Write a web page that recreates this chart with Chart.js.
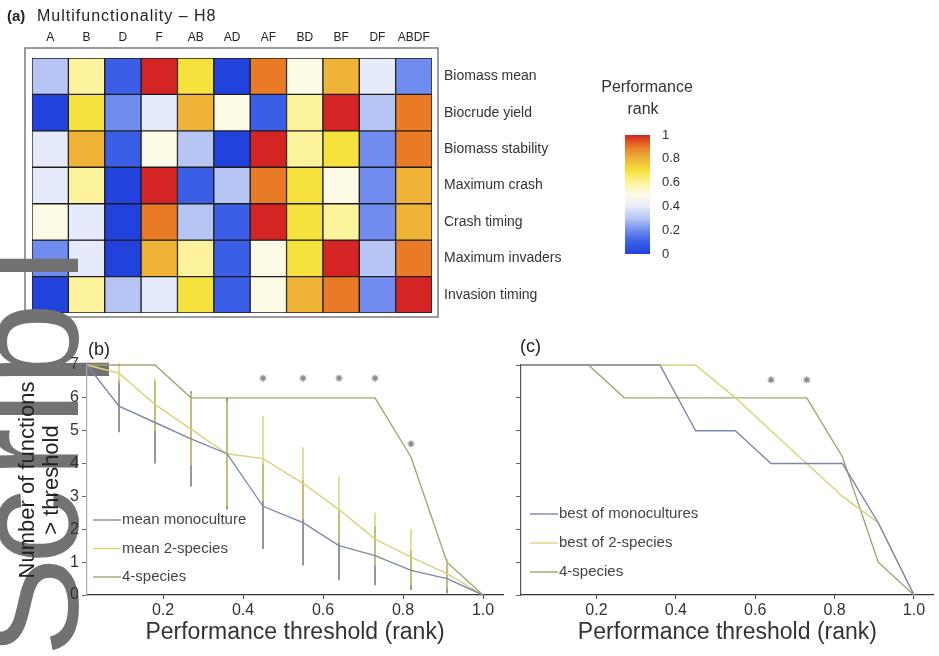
<!DOCTYPE html>
<html>
<head>
<meta charset="utf-8">
<script src="https://cdn.jsdelivr.net/npm/chart.js@4.4.0/dist/chart.umd.min.js"></script>
<style>
  body { margin: 0; background: #fff; width: 939px; height: 656px; position: relative; overflow: hidden; }
  canvas { position: absolute; }
</style>
</head>
<body>
<canvas id="heat" width="600" height="330" style="left:0;top:0"></canvas>
<canvas id="cbar" width="160" height="200" style="left:580px;top:70px"></canvas>
<canvas id="mark" width="130" height="656" style="left:0;top:0"></canvas>
<canvas id="panelB" width="510" height="336" style="left:0;top:320px"></canvas>
<canvas id="panelC" width="434" height="336" style="left:505px;top:320px"></canvas>

<script>
// ---- heatmap (a): rank of each genotype for each function ----
const genotypes = ['A', 'B', 'D', 'F', 'AB', 'AD', 'AF', 'BD', 'BF', 'DF', 'ABDF'];
const functionNames = ['Biomass mean', 'Biocrude yield', 'Biomass stability', 'Maximum crash',
                       'Crash timing', 'Maximum invaders', 'Invasion timing'];
const rankBiomassMean      = [0.3, 0.6, 0.1, 1.0, 0.7, 0.0, 0.9, 0.5, 0.8, 0.4, 0.2];
const rankBiocrudeYield    = [0.0, 0.7, 0.2, 0.4, 0.8, 0.5, 0.1, 0.6, 1.0, 0.3, 0.9];
const rankBiomassStability = [0.4, 0.8, 0.1, 0.5, 0.3, 0.0, 1.0, 0.6, 0.7, 0.2, 0.9];
const rankMaxCrash         = [0.4, 0.6, 0.0, 1.0, 0.1, 0.3, 0.9, 0.7, 0.5, 0.2, 0.8];
const rankCrashTiming      = [0.5, 0.4, 0.0, 0.9, 0.3, 0.1, 1.0, 0.7, 0.6, 0.2, 0.8];
const rankMaxInvaders      = [0.2, 0.4, 0.0, 0.8, 0.6, 0.1, 0.5, 0.7, 1.0, 0.3, 0.9];
const rankInvasionTiming   = [0.0, 0.6, 0.3, 0.4, 0.7, 0.1, 0.5, 0.8, 0.9, 0.2, 1.0];
const rankRows = [rankBiomassMean, rankBiocrudeYield, rankBiomassStability, rankMaxCrash,
                  rankCrashTiming, rankMaxInvaders, rankInvasionTiming];

// colour scale for performance rank
const cmapPos = [0, 0.1, 0.2, 0.3, 0.4, 0.5, 0.6, 0.7, 0.8, 0.9, 1.0];
const cmapHex = ['#2142dc', '#3b5ee6', '#6f8cee', '#b6c5f4', '#e6ebfb', '#fdfbe6',
                 '#fcf39c', '#f6e23c', '#efb437', '#e97b27', '#d42424'];
const cbarTicks = [0, 0.2, 0.4, 0.6, 0.8, 1];

// ---- panels (b) and (c): functions above a threshold ----
const thresholds = [0.01, 0.09, 0.18, 0.27, 0.36, 0.45, 0.55, 0.64, 0.73, 0.82, 0.91, 1.0];
const meanMono     = [7, 5.75, 5.25, 4.75, 4.3, 2.7, 2.2, 1.5, 1.2, 0.75, 0.5, 0];
const meanMonoSd   = [0, 0.8, 1.25, 1.45, 1.7, 1.3, 1.3, 1.05, 0.9, 0.6, 0.45, 0];
const mean2sp      = [7, 6.75, 5.8, 5.05, 4.3, 4.15, 3.4, 2.6, 1.7, 1.15, 0.65, 0];
const mean2spSd    = [0, 0.3, 0.8, 1.1, 1.6, 1.3, 1.1, 1.0, 0.8, 0.85, 0.45, 0];
const fourSpecies  = [7, 7, 7, 6, 6, 6, 6, 6, 6, 4.2, 1.0, 0];
const bestMono     = [7, 7, 7, 7, 7, 5, 5, 4, 4, 4, 2.2, 0];
const best2sp      = [7, 7, 7, 7, 7, 7, 6, 5, 4, 3, 2.2, 0];
const sigXb = [0.45, 0.55, 0.64, 0.73, 0.82];
const sigYb = [6.6, 6.6, 6.6, 6.6, 4.6];
const sigXc = [0.64, 0.73];
const sigYc = [6.55, 6.55];
const xTickVals = [0.2, 0.4, 0.6, 0.8, 1.0];

const colMono = '#7f87aa';
const col2sp = '#d9d27a';
const col4sp = '#a4a372';
const FONT = '"Liberation Sans", Arial, sans-serif';

function hexToRgb(h) {
  return [1, 3, 5].map(i => parseInt(h.slice(i, i + 2), 16));
}

function rankColor(v) {
  for (let i = 0; i < cmapPos.length - 1; i++) {
    if (v <= cmapPos[i + 1]) {
      const t = (v - cmapPos[i]) / (cmapPos[i + 1] - cmapPos[i]);
      const a = hexToRgb(cmapHex[i]), b = hexToRgb(cmapHex[i + 1]);
      const c = a.map((x, k) => Math.round(x + (b[k] - x) * t));
      return `rgb(${c[0]},${c[1]},${c[2]})`;
    }
  }
  return cmapHex[cmapHex.length - 1];
}

const pts = (xs, ys) => xs.map((x, i) => ({ x: x, y: ys[i] }));

// frame + panel heading for the heatmap
const heatDecor = {
  id: 'heatDecor',
  afterDraw(chart) {
    const { ctx, chartArea: a } = chart;
    ctx.save();
    ctx.strokeStyle = '#7a7a7a';
    ctx.lineWidth = 1.5;
    ctx.strokeRect(a.left - 7, a.top - 10, a.right - a.left + 13, a.bottom - a.top + 14);
    ctx.fillStyle = '#222';
    ctx.textBaseline = 'alphabetic';
    ctx.font = 'bold 15px ' + FONT;
    ctx.fillText('(a)', 7, 21);
    ctx.font = '16px ' + FONT;
    ctx.letterSpacing = '1px';
    ctx.fillText('Multifunctionality \u2013 H8', 37, 21);
    ctx.restore();
  }
};

new Chart(document.getElementById('heat'), {
  type: 'bar',
  data: {
    labels: genotypes,
    datasets: rankRows.map((vals, i) => ({
      label: functionNames[i],
      data: vals.map(() => 1),          // each function occupies one row
      backgroundColor: vals.map(rankColor),
      borderColor: '#1c1c1c',
      borderWidth: 1,
      borderSkipped: false,
      barPercentage: 1,
      categoryPercentage: 1
    }))
  },
  options: {
    responsive: false,
    animation: false,
    layout: { padding: { left: 32, top: 0, right: 0, bottom: 17 } },
    plugins: { legend: { display: false }, tooltip: { enabled: false } },
    scales: {
      x: {
        stacked: true,
        position: 'top',
        grid: { display: false },
        border: { display: false },
        ticks: { font: { size: 12, family: FONT }, color: '#222', padding: 5, maxRotation: 0 },
        afterFit: s => { s.height = 58; }
      },
      y: { stacked: true, min: 0, max: 7, reverse: true, display: false },
      rows: {
        type: 'category',
        axis: 'y',
        labels: functionNames,
        position: 'right',
        offset: true,
        grid: { display: false },
        border: { display: false },
        ticks: { font: { size: 14, family: FONT }, color: '#333', padding: 4 },
        afterFit: s => { s.width = 168; }
      }
    }
  },
  plugins: [heatDecor]
});

// colour bar
const cbarTitle = {
  id: 'cbarTitle',
  afterDraw(chart) {
    const { ctx } = chart;
    ctx.save();
    ctx.fillStyle = '#333';
    ctx.font = '16px ' + FONT;
    ctx.textAlign = 'center';
    ctx.textBaseline = 'middle';
    ctx.fillText('Performance', 67, 18);
    ctx.fillText('rank', 63, 40);
    ctx.restore();
  }
};

new Chart(document.getElementById('cbar'), {
  type: 'bar',
  data: {
    labels: ['rank'],
    datasets: [{
      data: [1],
      barPercentage: 1,
      categoryPercentage: 1,
      borderWidth: 0,
      backgroundColor: ctx => {
        const a = ctx.chart.chartArea;
        if (!a) return cmapHex[5];
        const g = ctx.chart.ctx.createLinearGradient(0, a.bottom, 0, a.top);
        cmapPos.forEach((p, i) => g.addColorStop(p, cmapHex[i]));
        return g;
      }
    }]
  },
  options: {
    responsive: false,
    animation: false,
    layout: { padding: { left: 45, top: 65, bottom: 16, right: 0 } },
    plugins: { legend: { display: false }, tooltip: { enabled: false } },
    scales: {
      x: { display: false },
      y: {
        position: 'right',
        min: 0, max: 1,
        afterBuildTicks: s => { s.ticks = cbarTicks.map(v => ({ value: v })); },
        grid: { display: false },
        border: { display: false },
        ticks: { font: { size: 13, family: FONT }, color: '#333', padding: 4,
                 callback: v => String(v) },
        afterFit: s => { s.width = 90; }
      }
    }
  },
  plugins: [cbarTitle]
});

// watermark lettering running up the left margin
(function () {
  const ctx = document.getElementById('mark').getContext('2d');
  const glyphs = [['S', 657], ['c', 564], ['r', 478], ['i', 425], ['p', 386], ['l', 282]];
  ctx.fillStyle = '#727272';
  ctx.font = '150px ' + FONT;
  ctx.textBaseline = 'alphabetic';
  glyphs.forEach(([ch, y]) => {
    ctx.save();
    ctx.translate(78, y);
    ctx.rotate(-Math.PI / 2);
    ctx.fillText(ch, 0, 0);
    ctx.restore();
  });
})();

// vertical error bars taken from dataset.errorBars
const errorBars = {
  id: 'errorBars',
  beforeDatasetsDraw(chart) {
    const { ctx, scales: { x, y } } = chart;
    ctx.save();
    chart.data.datasets.forEach(ds => {
      if (!ds.errorBars) return;
      ctx.strokeStyle = ds.errorColor;
      ctx.lineWidth = 1.4;
      ds.data.forEach((p, i) => {
        const sd = ds.errorBars[i];
        if (!sd) return;
        const px = x.getPixelForValue(p.x);
        ctx.beginPath();
        ctx.moveTo(px, y.getPixelForValue(p.y - sd));
        ctx.lineTo(px, y.getPixelForValue(p.y + sd));
        ctx.stroke();
      });
    });
    ctx.restore();
  }
};

// legend drawn inside the plot, plus the panel tag
const inlineLegend = {
  id: 'inlineLegend',
  afterDraw(chart, args, opts) {
    const { ctx, chartArea: a } = chart;
    ctx.save();
    ctx.font = '15px ' + FONT;
    ctx.textBaseline = 'middle';
    let row = 0;
    chart.data.datasets.forEach(ds => {
      if (!ds.label) return;
      const yy = a.top + opts.top + row * opts.gap;
      const xx = a.left + opts.left;
      ctx.strokeStyle = ds.borderColor;
      ctx.lineWidth = 1.4;
      ctx.beginPath();
      ctx.moveTo(xx, yy);
      ctx.lineTo(xx + 28, yy);
      ctx.stroke();
      ctx.fillStyle = '#444';
      ctx.fillText(ds.label, xx + 29, yy);
      row++;
    });
    ctx.fillStyle = '#222';
    ctx.font = '18px ' + FONT;
    ctx.fillText(opts.tag, opts.tagX, opts.tagY);
    ctx.restore();
  }
};

function lineSet(label, ys, color, sd, sdColor) {
  return {
    label: label,
    data: pts(thresholds, ys),
    borderColor: color,
    backgroundColor: color,
    borderWidth: 1.4,
    pointRadius: 0,
    errorBars: sd,
    errorColor: sdColor
  };
}

function sigSet(xs, ys) {
  return {
    type: 'scatter',
    data: pts(xs, ys),
    pointStyle: 'star',
    pointRadius: 3.5,
    borderColor: '#8a8a8a',
    borderWidth: 1.2,
    showLine: false
  };
}

function panelOptions(isLeft, legendOpts) {
  return {
    responsive: false,
    animation: false,
    clip: false,
    layout: { padding: { top: 45, right: isLeft ? 7 : 3, left: 0, bottom: 0 } },
    plugins: { legend: { display: false }, tooltip: { enabled: false }, inlineLegend: legendOpts },
    scales: {
      x: {
        type: 'linear',
        min: 0.01, max: 1.05,
        afterBuildTicks: s => { s.ticks = xTickVals.map(v => ({ value: v })); },
        grid: { drawOnChartArea: false, tickLength: 4, color: '#444' },
        border: { color: '#333', width: 1.3 },
        ticks: { font: { size: 16, family: FONT }, color: '#333', padding: 2,
                 callback: v => Number(v).toFixed(1) },
        title: { display: true, text: 'Performance threshold (rank)', color: '#333',
                 font: { size: 23, family: FONT }, padding: { top: 0, bottom: 10 } },
        afterFit: s => { s.height = 61; }
      },
      y: {
        min: 0, max: 7,
        ticks: { stepSize: 1, display: isLeft, font: { size: 16, family: FONT }, color: '#333', padding: 3 },
        grid: { drawOnChartArea: false, tickLength: 5, color: '#666' },
        border: { color: isLeft ? '#aaa' : '#555', width: 1.2 },
        title: { display: isLeft, text: ['Number of functions', '> threshold'], color: '#222',
                 font: { size: 22, family: FONT, lineHeight: 1.1 }, padding: { top: 16, bottom: 0 } },
        afterFit: s => { s.width = isLeft ? 87 : 16; }
      }
    }
  };
}

new Chart(document.getElementById('panelB'), {
  type: 'line',
  data: {
    datasets: [
      lineSet('mean monoculture', meanMono, colMono, meanMonoSd, '#6a6a6a'),
      lineSet('mean 2-species', mean2sp, col2sp, mean2spSd, '#d6ce6c'),
      lineSet('4-species', fourSpecies, col4sp),
      sigSet(sigXb, sigYb)
    ]
  },
  options: panelOptions(true, { left: 6, top: 155, gap: 28.5, tag: '(b)', tagX: 88, tagY: 30 }),
  plugins: [errorBars, inlineLegend]
});

new Chart(document.getElementById('panelC'), {
  type: 'line',
  data: {
    datasets: [
      lineSet('best of monocultures', bestMono, colMono),
      lineSet('best of 2-species', best2sp, col2sp),
      lineSet('4-species', fourSpecies, col4sp),
      sigSet(sigXc, sigYc)
    ]
  },
  options: panelOptions(false, { left: 9, top: 149, gap: 29, tag: '(c)', tagX: 15, tagY: 27 }),
  plugins: [errorBars, inlineLegend]
});
</script>
</body>
</html>
